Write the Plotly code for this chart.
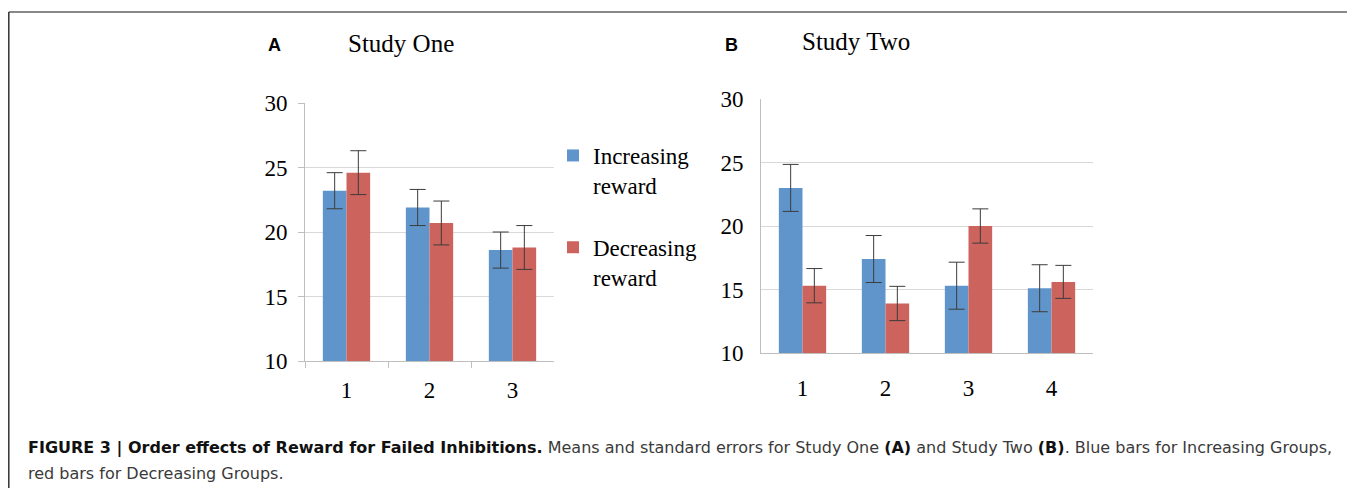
import plotly.graph_objects as go

# ---- data ----
cats_one = ["1", "2", "3"]
inc_one = [23.2, 21.9, 18.6]
inc_one_se = [1.4, 1.4, 1.4]
dec_one = [24.6, 20.7, 18.8]
dec_one_se = [1.7, 1.7, 1.7]

cats_two = ["1", "2", "3", "4"]
inc_two = [23.0, 17.4, 15.3, 15.1]
inc_two_se = [1.85, 1.85, 1.85, 1.85]
dec_two = [15.3, 13.9, 20.0, 15.6]
dec_two_se = [1.35, 1.35, 1.35, 1.3]

y_ticks = [10, 15, 20, 25, 30]

BLUE = "#5F95CB"
RED = "#CC635D"
ERR = "#3C3C3C"
W, H = 1355, 488
OFF = 8  # page body margin offset
SERIF = "Liberation Serif, Times New Roman, serif"
SANS = "Liberation Sans, Arial, sans-serif"
CAPFONT = "DejaVu Sans, sans-serif"


def px(x):
    return (x - OFF) / W


def py(y):
    return 1 - (y - OFF) / H


def err(vals):
    return dict(type="data", array=vals, visible=True, color=ERR, thickness=1, width=8)


fig = go.Figure()
fig.add_trace(go.Bar(x=cats_one, y=inc_one, error_y=err(inc_one_se), marker_color=BLUE,
                     marker_line_width=0, name="Increasing<br>reward", legendgroup="inc",
                     xaxis="x", yaxis="y"))
fig.add_trace(go.Bar(x=cats_one, y=dec_one, error_y=err(dec_one_se), marker_color=RED,
                     marker_line_width=0, name="Decreasing<br>reward", legendgroup="dec",
                     xaxis="x", yaxis="y"))
fig.add_trace(go.Bar(x=cats_two, y=inc_two, error_y=err(inc_two_se), marker_color=BLUE,
                     marker_line_width=0, showlegend=False, legendgroup="inc",
                     xaxis="x2", yaxis="y2"))
fig.add_trace(go.Bar(x=cats_two, y=dec_two, error_y=err(dec_two_se), marker_color=RED,
                     marker_line_width=0, showlegend=False, legendgroup="dec",
                     xaxis="x2", yaxis="y2"))

axis_common_y = dict(range=[10, 30], tickvals=y_ticks, showgrid=True, gridcolor="#D9D9D9",
                     gridwidth=1, showline=True, linecolor="#BFBFBF", linewidth=1,
                     tickfont=dict(family=SERIF, size=23, color="#000"), zeroline=False,
                     fixedrange=True, automargin=False)
axis_common_x = dict(showline=True, linecolor="#BFBFBF", linewidth=1, showgrid=False,
                     tickfont=dict(family=SERIF, size=23, color="#000"), type="category",
                     fixedrange=True, automargin=False)

fig.update_layout(
    width=W, height=H,
    margin=dict(l=0, r=0, t=0, b=0, pad=0, autoexpand=False),
    paper_bgcolor="white", plot_bgcolor="white",
    barmode="group", bargap=0.43, bargroupgap=0,
    showlegend=True,
    legend=dict(x=px(553), y=py(134), xanchor="left", yanchor="top",
                font=dict(family=SERIF, size=23, color="#000"),
                valign="top", tracegroupgap=29, traceorder="grouped",
                bgcolor="rgba(0,0,0,0)"),
    xaxis=dict(domain=[px(305), px(554)], anchor="y", ticks="outside", ticklen=6,
               tickcolor="#BFBFBF", tickson="boundaries", ticklabelstandoff=8,
               **axis_common_x),
    yaxis=dict(domain=[py(361), py(103)], anchor="x", ticks="outside", ticklen=6,
               tickcolor="#BFBFBF", ticklabelstandoff=6, **axis_common_y),
    xaxis2=dict(domain=[px(761), px(1093)], anchor="y2", ticks="", ticklabelstandoff=14,
                **axis_common_x),
    yaxis2=dict(domain=[py(353), py(99)], anchor="x2", ticks="", ticklabelstandoff=12,
                **axis_common_y),
)

annotations = [
    dict(text="Study One", x=px(401), y=py(44), font=dict(family=SERIF, size=25, color="#000")),
    dict(text="Study Two", x=px(856), y=py(41), font=dict(family=SERIF, size=25, color="#000")),
    dict(text="<b>A</b>", x=px(274), y=py(45), font=dict(family=SANS, size=18, color="#000")),
    dict(text="<b>B</b>", x=px(731), y=py(45), font=dict(family=SANS, size=18, color="#000")),
]
for a in annotations:
    a.update(xref="paper", yref="paper", showarrow=False, xanchor="center", yanchor="middle")

cap1 = ("<b style='color:#111'>FIGURE 3 | Order effects of Reward for Failed Inhibitions.</b> "
        "Means and standard errors for Study One <b style='color:#111'>(A)</b> and Study Two "
        "<b style='color:#111'>(B)</b>. Blue bars for Increasing Groups,")
cap2 = "red bars for Decreasing Groups."
for txt, yy in [(cap1, 448), (cap2, 473)]:
    annotations.append(dict(text=txt, x=px(26), y=py(yy), xref="paper", yref="paper",
                            showarrow=False, xanchor="left", yanchor="middle",
                            font=dict(family=CAPFONT, size=16, color="#3A3A3A")))
fig.update_layout(annotations=annotations)

# figure frame
fig.add_shape(type="line", xref="paper", yref="paper", x0=px(8.8), x1=px(1353), y0=py(12), y1=py(12),
              line=dict(color="#888888", width=2))
fig.add_shape(type="line", xref="paper", yref="paper", x0=px(8.8), x1=px(8.8), y0=py(12), y1=0,
              line=dict(color="#333333", width=1.5))
fig.add_shape(type="line", xref="paper", yref="paper", x0=px(1353), x1=px(1353), y0=py(12), y1=0,
              line=dict(color="#333333", width=1.5))

fig.write_html("out.html", include_plotlyjs=True,
               config={"responsive": False, "displayModeBar": False})
